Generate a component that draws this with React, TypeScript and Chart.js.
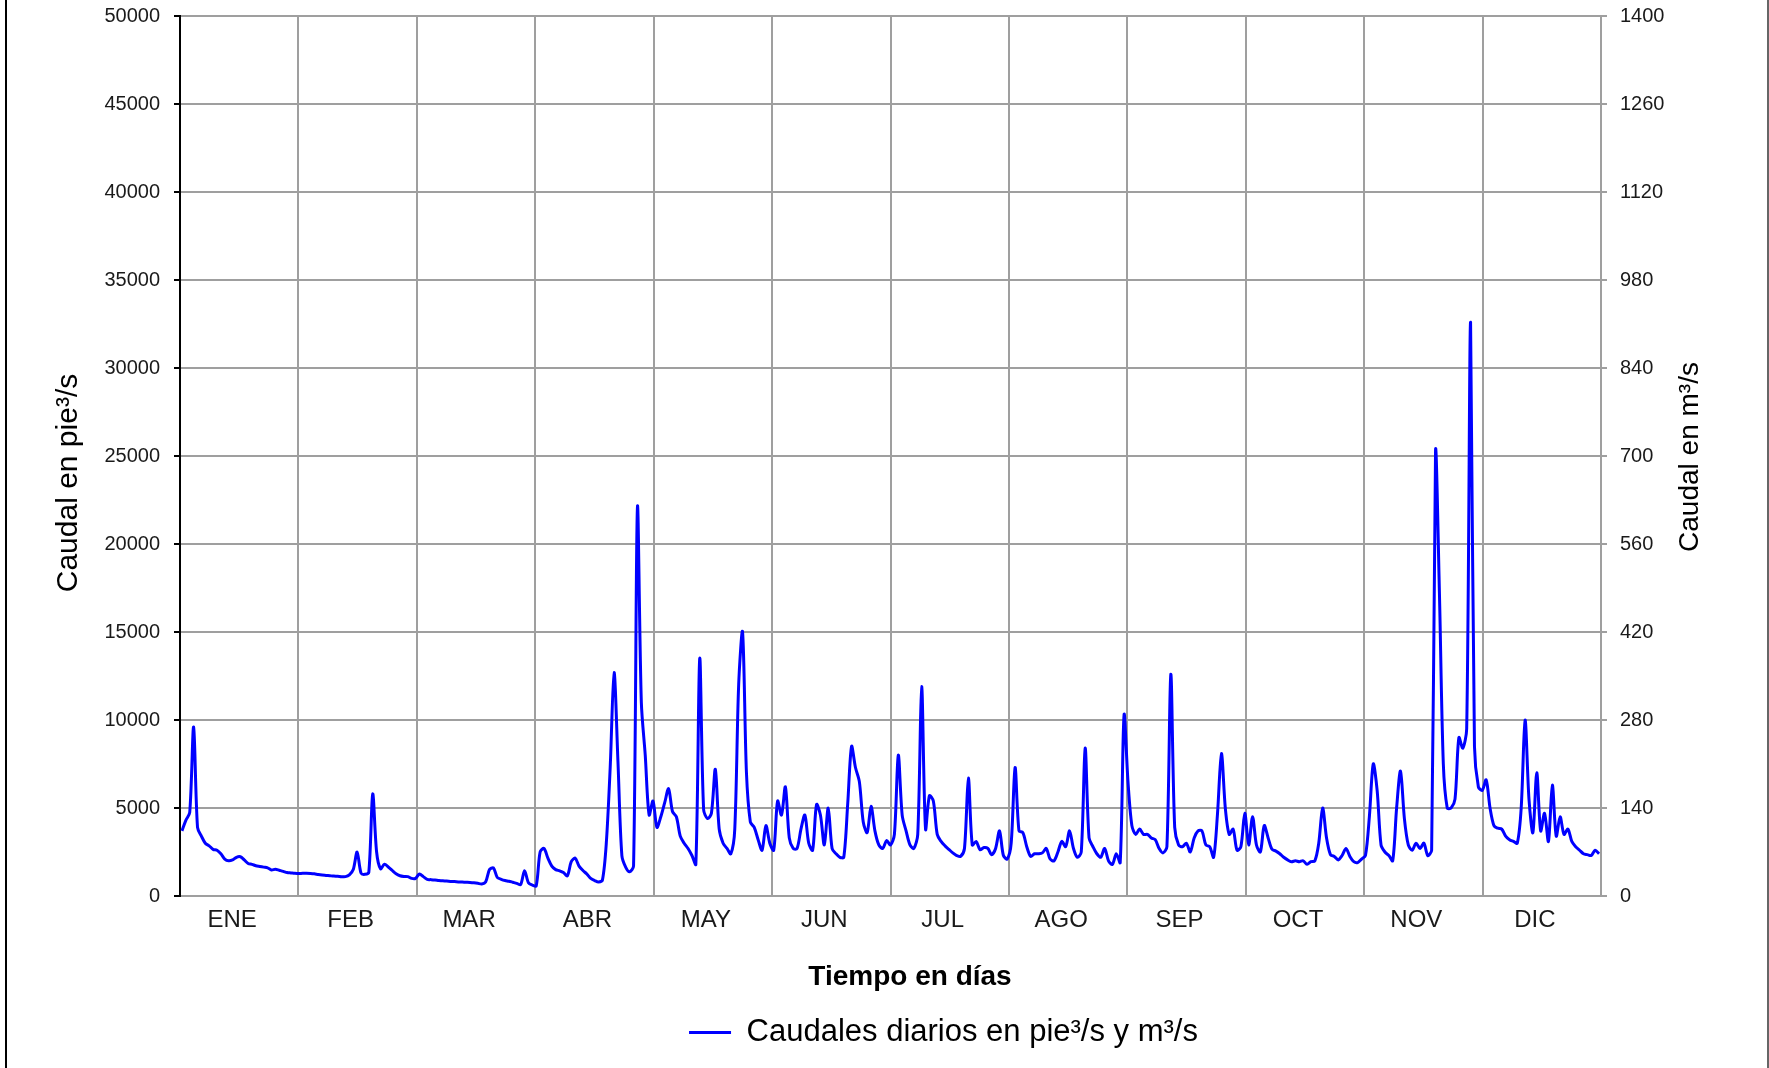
import React, { useEffect, useRef } from "react";
import { Chart, registerables } from "chart.js";

Chart.register(...registerables);

// ---------- DATA ----------
const MONTHS = ["ENE", "FEB", "MAR", "ABR", "MAY", "JUN", "JUL", "AGO", "SEP", "OCT", "NOV", "DIC"];

// Daily flows (ft³/s), one small array per month
const ENE = [3700, 4300, 4750, 9600, 3900, 3400, 3000, 2850, 2650, 2600, 2400, 2100, 2000, 2050, 2200, 2230, 2050, 1850, 1800, 1720, 1680, 1640, 1600, 1480, 1520, 1460, 1400, 1330, 1310, 1290, 1280];
const FEB = [1290, 1290, 1280, 1260, 1220, 1190, 1170, 1150, 1130, 1120, 1100, 1100, 1200, 1500, 2500, 1300, 1230, 1350, 5800, 2500, 1550, 1800, 1650, 1450, 1260, 1150, 1110, 1100];
const MAR = [1000, 1000, 1250, 1100, 940, 930, 910, 880, 860, 850, 830, 820, 800, 790, 780, 770, 750, 720, 680, 800, 1500, 1600, 1050, 950, 880, 840, 780, 720, 650, 1440, 750];
const ABR = [620, 580, 2500, 2700, 2150, 1700, 1500, 1430, 1330, 1150, 1950, 2150, 1700, 1450, 1250, 1000, 880, 800, 900, 3000, 7300, 12700, 7600, 2300, 1630, 1380, 1700, 22100, 11000, 8000];
const MAY = [4600, 5400, 3900, 4500, 5300, 6100, 4800, 4500, 3400, 3000, 2700, 2300, 1800, 13500, 4900, 4400, 4700, 7200, 3800, 3000, 2700, 2400, 3800, 12000, 15000, 7000, 4200, 3900, 3200, 2600, 4000];
const JUN = [3000, 2600, 5400, 4600, 6200, 3300, 2700, 2700, 3800, 4600, 3000, 2600, 5200, 4600, 2900, 5000, 2700, 2400, 2200, 2200, 5200, 8500, 7300, 6500, 4200, 3600, 5100, 3700, 2900, 2700];
const JUL = [3150, 2900, 3500, 8000, 4600, 3700, 2900, 2700, 3500, 11900, 3800, 5700, 5400, 3500, 3100, 2850, 2650, 2450, 2300, 2250, 2700, 6700, 2900, 3100, 2630, 2750, 2700, 2350, 2700, 3700, 2300];
const AGO = [2100, 3000, 7300, 3700, 3600, 2800, 2250, 2400, 2400, 2450, 2700, 2100, 2000, 2500, 3100, 2800, 3700, 2700, 2200, 2500, 8400, 3300, 2800, 2400, 2200, 2700, 2000, 1800, 2400, 1900, 10300];
const SEP = [6500, 4000, 3500, 3800, 3500, 3500, 3300, 3200, 2700, 2450, 2800, 12600, 3900, 2900, 2800, 3000, 2500, 3300, 3700, 3700, 2900, 2800, 2200, 4700, 8100, 5000, 3500, 3800, 2600, 2800];
const OCT = [4700, 2900, 4500, 2900, 2500, 4000, 3300, 2650, 2550, 2400, 2200, 2050, 1950, 2000, 1950, 2000, 1800, 1950, 2000, 3000, 5000, 3300, 2350, 2250, 2050, 2300, 2700, 2250, 1950, 1900, 2100];
const NOV = [2300, 4500, 7500, 6000, 2900, 2500, 2300, 2000, 5000, 7100, 4400, 2900, 2600, 3000, 2700, 3000, 2300, 2600, 25300, 17200, 7500, 5000, 5000, 5500, 9000, 8400, 9500, 32600, 8500, 6200];
const DIC = [6000, 6600, 5000, 4000, 3850, 3800, 3400, 3200, 3100, 3000, 5000, 10000, 5500, 3600, 7000, 3700, 4700, 3100, 6300, 3400, 4500, 3500, 3800, 3100, 2800, 2600, 2400, 2350, 2300, 2600, 2400];

const DAILY_FLOWS = [...ENE, ...FEB, ...MAR, ...ABR, ...MAY, ...JUN, ...JUL, ...AGO, ...SEP, ...OCT, ...NOV, ...DIC];

// Axis ranges / tick steps
const LEFT_MAX = 50000;
const LEFT_STEP = 5000;
const RIGHT_MAX = 1400;
const RIGHT_STEP = 140;

// Texts
const SERIES_LABEL = "Caudales diarios en pie³/s y m³/s";
const LEFT_TITLE = "Caudal en pie³/s";
const RIGHT_TITLE = "Caudal en m³/s";
const X_TITLE = "Tiempo en días";

// ---------- STYLE ----------
const FONT = "'Liberation Sans', Arial, Helvetica, sans-serif";
const GRID = "#9f9f9f";
const TEXT = "#1a1a1a";
const LINE = "#0000ff";
const W = 1769;
const H = 1068;

export default function App() {
  const ref = useRef<HTMLCanvasElement>(null);

  useEffect(() => {
    const canvas = ref.current;
    if (!canvas) return;
    const days = DAILY_FLOWS.length;

    const decor = {
      id: "decor",
      afterLayout(chart: any) {
        const lg = chart.legend;
        if (lg) lg.left += 118;
      },
      afterDraw(chart: any) {
        const ctx = chart.ctx as CanvasRenderingContext2D;
        ctx.save();
        // outer frame lines
        ctx.fillStyle = "#000";
        ctx.fillRect(5, 0, 2, H);
        ctx.fillStyle = "#666";
        ctx.fillRect(1767, 0, 2, H);
        // axis titles
        ctx.fillStyle = "#000";
        ctx.textAlign = "center";
        ctx.textBaseline = "middle";
        ctx.font = `30px ${FONT}`;
        ctx.save();
        ctx.translate(69, 483);
        ctx.rotate(-Math.PI / 2);
        ctx.fillText(LEFT_TITLE, 0, 0);
        ctx.restore();
        ctx.font = `28px ${FONT}`;
        ctx.save();
        ctx.translate(1690, 457);
        ctx.rotate(-Math.PI / 2);
        ctx.fillText(RIGHT_TITLE, 0, 0);
        ctx.restore();
        ctx.font = `bold 28px ${FONT}`;
        ctx.fillText(X_TITLE, 910, 977);
        ctx.restore();
      },
    };

    const chart = new Chart(canvas, {
      type: "line",
      data: {
        datasets: [
          {
            label: SERIES_LABEL,
            data: DAILY_FLOWS.map((v, i) => ({ x: i + 0.5, y: v })),
            borderColor: LINE,
            backgroundColor: LINE,
            borderWidth: 3,
            pointRadius: 0,
            tension: 0.3,
            xAxisID: "x",
            yAxisID: "y",
          },
        ],
      },
      options: {
        responsive: false,
        animation: false,
        devicePixelRatio: 1,
        font: { family: FONT },
        layout: { padding: { left: 0, right: 0, top: 16, bottom: 10 } },
        plugins: {
          tooltip: { enabled: false },
          legend: {
            position: "bottom",
            labels: {
              font: { size: 31, family: FONT },
              color: "#000",
              boxWidth: 42,
              boxHeight: 0,
              padding: 10,
            },
          },
        },
        scales: {
          x: {
            type: "linear",
            position: "bottom",
            min: 0,
            max: days,
            afterBuildTicks: (s: any) => {
              s.ticks = MONTHS.slice(1).map((_, k) => ({ value: ((k + 1) * days) / 12 }));
            },
            ticks: { display: false },
            grid: { color: GRID, lineWidth: 2, drawTicks: false },
            border: { display: false },
            afterFit: (s: any) => {
              s.height = 0;
            },
          },
          xm: {
            type: "category",
            axis: "x",
            position: "bottom",
            labels: MONTHS,
            offset: true,
            grid: { display: false, drawTicks: false },
            border: { display: false },
            ticks: {
              font: { size: 24, family: FONT },
              color: TEXT,
              padding: 10,
              labelOffset: -7,
              maxRotation: 0,
              autoSkip: false,
            },
            afterFit: (s: any) => {
              s.height = 111;
            },
          },
          y: {
            type: "linear",
            position: "left",
            min: 0,
            max: LEFT_MAX,
            ticks: {
              stepSize: LEFT_STEP,
              font: { size: 20, family: FONT },
              color: TEXT,
              padding: 14,
              callback: (v: any) => String(v),
            },
            grid: { color: GRID, lineWidth: 2, tickColor: "#000", tickLength: 6, tickWidth: 2 },
            border: { color: "#000", width: 2 },
            afterFit: (s: any) => {
              s.width = 180;
              s.paddingTop = 0;
              s.paddingBottom = 0;
            },
          },
          y2: {
            type: "linear",
            position: "right",
            min: 0,
            max: RIGHT_MAX,
            ticks: {
              stepSize: RIGHT_STEP,
              font: { size: 20, family: FONT },
              color: TEXT,
              padding: 13,
              callback: (v: any) => String(v),
            },
            grid: { drawOnChartArea: false, color: GRID, tickColor: GRID, tickLength: 6, lineWidth: 2 },
            border: { color: GRID, width: 2 },
            afterFit: (s: any) => {
              s.width = 168;
              s.paddingTop = 0;
              s.paddingBottom = 0;
            },
          },
        },
      } as any,
      plugins: [decor],
    });

    return () => chart.destroy();
  }, []);

  return (
    <div style={{ position: "fixed", left: 0, top: 0, width: W, height: H, background: "#fff" }}>
      <canvas ref={ref} width={W} height={H} style={{ display: "block" }} />
    </div>
  );
}
